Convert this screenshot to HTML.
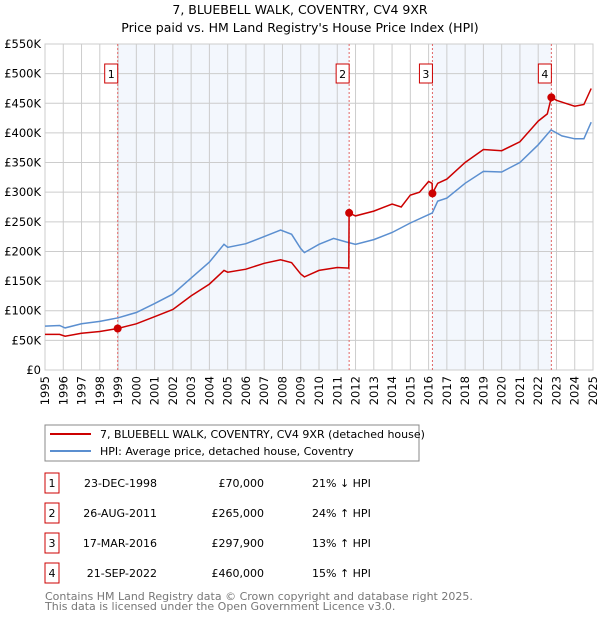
<!DOCTYPE html>
<html><head><meta charset="utf-8"><style>
body{margin:0;background:#fff;font-family:"DejaVu Sans","Liberation Sans",sans-serif;}
svg text{font-family:"DejaVu Sans","Liberation Sans",sans-serif;}
</style></head><body>
<svg id="c" width="600" height="620" viewBox="0 0 600 620" xmlns="http://www.w3.org/2000/svg">
<text x="300" y="14" text-anchor="middle" font-size="12.5">7, BLUEBELL WALK, COVENTRY, CV4 9XR</text>
<text x="300" y="32" text-anchor="middle" font-size="12.5">Price paid vs. HM Land Registry's House Price Index (HPI)</text>
<g id="plot"></g>
<g>
<rect x="45" y="425" width="374" height="36" fill="#fff" stroke="#888"/>
<line x1="50" y1="434" x2="91" y2="434" stroke="#cc0000" stroke-width="2"/>
<text x="100" y="438" font-size="11">7, BLUEBELL WALK, COVENTRY, CV4 9XR (detached house)</text>
<line x1="50" y1="451" x2="91" y2="451" stroke="#5b8fd0" stroke-width="2"/>
<text x="100" y="455" font-size="11">HPI: Average price, detached house, Coventry</text>
</g>
<g id="table" font-size="11"></g>
<text x="45" y="600" font-size="11" fill="#777">Contains HM Land Registry data © Crown copyright and database right 2025.</text>
<text x="45" y="610" font-size="11" fill="#777">This data is licensed under the Open Government Licence v3.0.</text>
</svg>
<script>
const hpiYears=[1995,1995.8,1996.1,1997,1998,1998.5,1999,2000,2001,2002,2003,2004,2004.8,2005,2006,2007,2007.9,2008.5,2009.0,2009.2,2010,2010.8,2011.5,2012,2013,2014,2015,2016.2,2016.5,2017,2018,2019,2020,2021,2022,2022.7,2023.3,2024,2024.5,2024.9];
const hpiValues=[74,75,71,78,82,85,88,97,112,128,155,182,212,207,213,225,236,229,205,198,212,222,216,212,220,232,248,265,285,290,315,335,334,350,380,405,395,390,390,418];
const priceYears=[1995,1995.8,1996.1,1997,1998,1998.98,2000,2001,2002,2003,2004,2004.8,2005,2006,2007,2007.9,2008.5,2009.0,2009.2,2010,2011,2011.63,2011.65,2012,2013,2014,2014.5,2015,2015.5,2016.0,2016.19,2016.21,2016.5,2017,2018,2019,2020,2021,2022,2022.5,2022.72,2023,2023.5,2024,2024.5,2024.9];
const priceValues=[60,60,57,62,65,70,78,90,102,125,145,168,165,170,180,186,181,162,157,168,173,172,265,260,268,280,275,295,300,318,315,297.9,315,322,350,372,370,385,420,432,460,455,450,445,448,475];
const saleLabels=["1","2","3","4"];
const saleYears=[1998.98,2011.65,2016.21,2022.72];
const salePrices=[70,265,297.9,460];
const saleDates=["23-DEC-1998","26-AUG-2011","17-MAR-2016","21-SEP-2022"];
const salePriceText=["£70,000","£265,000","£297,900","£460,000"];
const saleHpiText=["21% ↓ HPI","24% ↑ HPI","13% ↑ HPI","15% ↑ HPI"];
const yTicks=[0,50,100,150,200,250,300,350,400,450,500,550];
const yTickLabels=["£0","£50K","£100K","£150K","£200K","£250K","£300K","£350K","£400K","£450K","£500K","£550K"];
const xTicks=[1995,1996,1997,1998,1999,2000,2001,2002,2003,2004,2005,2006,2007,2008,2009,2010,2011,2012,2013,2014,2015,2016,2017,2018,2019,2020,2021,2022,2023,2024,2025];

const X0=45,X1=593,Y0=370,Y1=44;
const xs=y=>X0+(y-1995)/30*(X1-X0);
const ys=v=>Y0-v/550*(Y0-Y1);
const NS="http://www.w3.org/2000/svg";
const plot=document.getElementById('plot');
function mk(tag,attrs,parent){const e=document.createElementNS(NS,tag);for(const k in attrs)e.setAttribute(k,attrs[k]);(parent||plot).appendChild(e);return e;}

let e;
// shaded regions
for(let i=0;i<saleYears.length;i+=2){
  const a=xs(saleYears[i]),b=i+1<saleYears.length?xs(saleYears[i+1]):X1;
  e=mk('rect',{x:a,y:Y1,width:b-a,height:Y0-Y1,fill:'#eef3fc',opacity:0.7});
  
  
}
// grid
xTicks.forEach((t,i)=>{
  e=mk('line',{x1:xs(t),x2:xs(t),y1:Y1,y2:Y0,stroke:'#ccc'});
  
  
  const tx=mk('text',{x:0,y:0,'font-size':11.5,'text-anchor':'end',transform:`translate(${xs(t)+4},${Y0+6}) rotate(-90)`});
  tx.textContent=t;
  
  
});
yTicks.forEach((t,i)=>{
  e=mk('line',{x1:X0,x2:X1,y1:ys(t),y2:ys(t),stroke:'#ccc'});
  
  
  const tx=mk('text',{x:X0-4,y:ys(t)+4,'font-size':11.5,'text-anchor':'end'});
  tx.textContent=yTickLabels[i];
  
  
});
e=mk('rect',{x:X0,y:Y1,width:X1-X0,height:Y0-Y1,fill:'none',stroke:'#ccc'});


// sale vlines + labels
saleYears.forEach((s,i)=>{
  e=mk('line',{x1:xs(s),x2:xs(s),y1:Y1,y2:Y0,stroke:'#e06666','stroke-dasharray':'2,2'});
  
  
  e=mk('rect',{x:xs(s)-13,y:64,width:13,height:19,fill:'#fff',stroke:'#cc0000'});
  
  
  const tx=mk('text',{x:xs(s)-6.5,y:78,'font-size':11,'text-anchor':'middle'});
  tx.textContent=saleLabels[i];
  
  
});
// lines
const path=(xa,va)=>xa.map((x,i)=>(i?'L':'M')+xs(x).toFixed(1)+','+ys(va[i]).toFixed(1)).join('');
e=mk('path',{d:path(hpiYears,hpiValues),fill:'none',stroke:'#5b8fd0','stroke-width':1.5});


e=mk('path',{d:path(priceYears,priceValues),fill:'none',stroke:'#cc0000','stroke-width':1.5});


saleYears.forEach((s,i)=>{
  e=mk('circle',{cx:xs(s),cy:ys(salePrices[i]),r:4,fill:'#cc0000'});
  
  
});
// table
const tb=document.getElementById('table');
saleLabels.forEach((l,i)=>{
  const cy=483+i*30;
  e=mk('rect',{x:45,y:cy-10,width:14,height:20,fill:'#fff',stroke:'#cc0000'},tb);
  
  
  const cols=[[52,l,'middle'],[157,saleDates[i],'end'],[264,salePriceText[i],'end'],[312,saleHpiText[i],'start']];
  const nm=['table-row-number','table-row-date','table-row-price','table-row-hpi'];
  cols.forEach((c,j)=>{
    const tx=mk('text',{x:c[0],y:cy+4,'text-anchor':c[2]},tb);
    tx.textContent=c[1];
    
    
  });
});
</script>
</body></html>
